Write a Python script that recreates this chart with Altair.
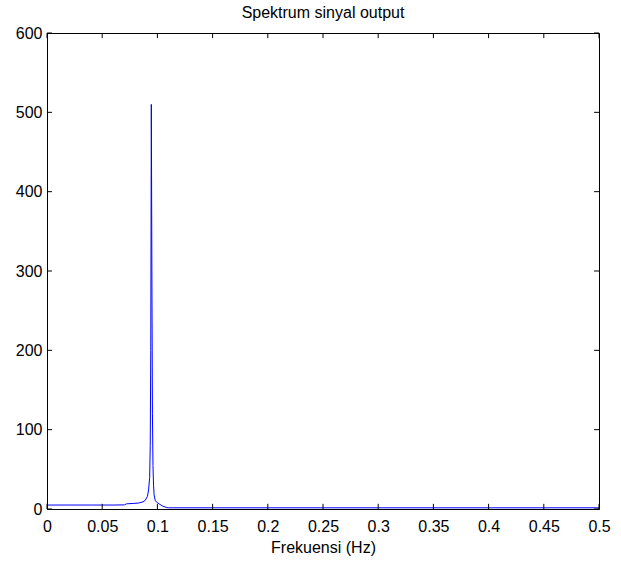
import altair as alt
import pandas as pd

freq = [0, 0.02, 0.04, 0.06, 0.07, 0.072, 0.078, 0.083, 0.087, 0.089, 0.091, 0.092, 0.093,
        0.0935, 0.094, 0.0945, 0.095, 0.0955, 0.096, 0.0965, 0.097, 0.098, 0.099, 0.1,
        0.102, 0.105, 0.108, 0.11, 0.15, 0.2, 0.25, 0.3, 0.35, 0.4, 0.45, 0.5]
mag = [5, 5, 5, 5, 5.2, 6.5, 7, 7.5, 9, 11, 16, 24, 40,
       80, 200, 510, 300, 120, 55, 30, 18, 11, 9, 8,
       6, 3.5, 2, 1.5, 1.5, 1.5, 1.5, 1.5, 1.5, 1.5, 1.5, 1.5]

x_ticks = [0, 0.05, 0.1, 0.15, 0.2, 0.25, 0.3, 0.35, 0.4, 0.45, 0.5]
y_ticks = [0, 100, 200, 300, 400, 500, 600]

df = pd.DataFrame({"f": freq, "m": mag})
xt = pd.DataFrame({"t": x_ticks})
yt = pd.DataFrame({"t": y_ticks})

FONT = "Liberation Sans"
FS = 16
xs = alt.Scale(domain=[0, 0.5], nice=False, zero=False)
ys = alt.Scale(domain=[0, 600], nice=False)

line = alt.Chart(df).mark_line(color="#0000ff", strokeWidth=1).encode(
    x=alt.X("f:Q", scale=xs, title="Frekuensi (Hz)",
            axis=alt.Axis(values=x_ticks, tickSize=0, grid=False, domainColor="black",
                          labelColor="black", labelFont=FONT, labelFontSize=FS,
                          labelPadding=9, titleFont=FONT, titleFontSize=FS,
                          titleFontWeight="normal", titleColor="black", titlePadding=5,
                          labelFlush=False, labelExpr="datum.value == 0 ? '0' : format(datum.value, '.2~f')")),
    y=alt.Y("m:Q", scale=ys, title=None,
            axis=alt.Axis(values=y_ticks, tickSize=0, grid=False, domainColor="black",
                          labelColor="black", labelFont=FONT, labelFontSize=FS,
                          labelPadding=5, labelFlush=False)),
)

tick_len_x = 0.0045
tick_len_y = 6.5
bot = alt.Chart(xt).mark_rule(color="black", strokeWidth=1).encode(
    x=alt.X("t:Q", scale=xs), y=alt.datum(0), y2=alt.datum(tick_len_y))
top = alt.Chart(xt).mark_rule(color="black", strokeWidth=1).encode(
    x=alt.X("t:Q", scale=xs), y=alt.datum(600), y2=alt.datum(600 - tick_len_y))
left = alt.Chart(yt).mark_rule(color="black", strokeWidth=1).encode(
    y=alt.Y("t:Q", scale=ys), x=alt.datum(0), x2=alt.datum(tick_len_x))
right = alt.Chart(yt).mark_rule(color="black", strokeWidth=1).encode(
    y=alt.Y("t:Q", scale=ys), x=alt.datum(0.5), x2=alt.datum(0.5 - tick_len_x))

chart = alt.layer(line, bot, top, left, right).properties(
    width=552, height=476,
    title=alt.TitleParams("Spektrum sinyal output", font=FONT, fontSize=FS,
                          fontWeight="normal", color="black", offset=4),
    autosize=alt.AutoSizeParams(type="none"),
    padding={"left": 47, "top": 33, "right": 22, "bottom": 54},
    background="white",
).configure_view(stroke="black", strokeWidth=1)

chart.save("out.html", embed_options={"renderer": "svg", "actions": False})
